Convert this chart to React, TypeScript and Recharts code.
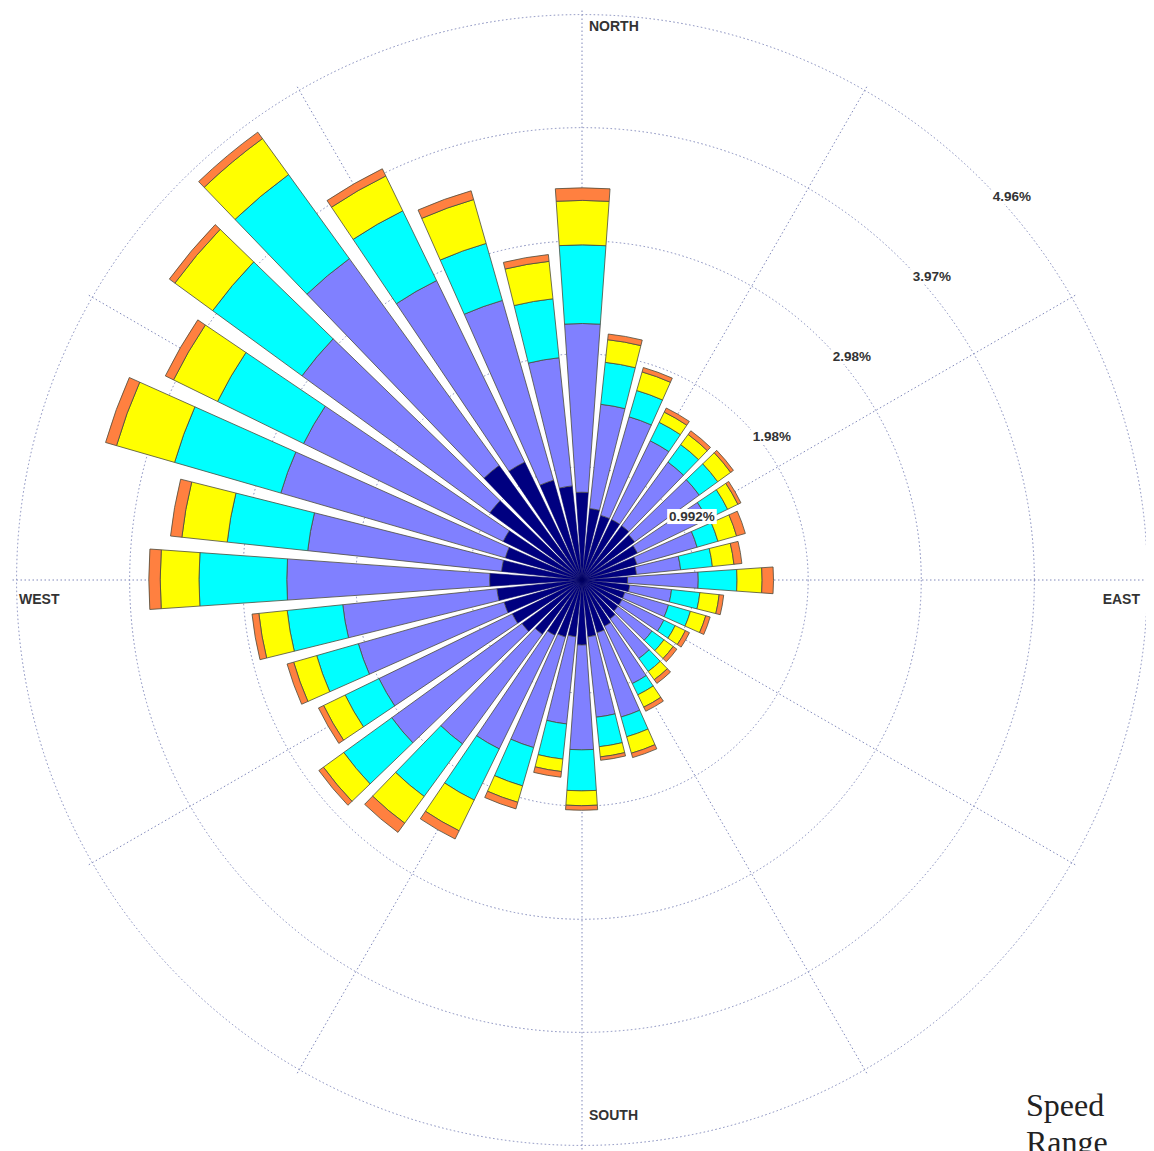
import React from 'react';
import { RadialBarChart, RadialBar, PolarGrid, PolarAngleAxis, PolarRadiusAxis } from 'recharts';

// wind direction (degrees clockwise from north)
const bearings = [0, 10, 20, 30, 40, 50, 60, 70, 80, 90, 100, 110, 120, 130, 140, 150, 160, 170,
  180, 190, 200, 210, 220, 230, 240, 250, 260, 270, 280, 290, 300, 310, 320, 330, 340, 350];

// frequency (%) of each speed class per direction, lowest class first
const navy = [0.77, 0.63, 0.59, 0.59, 0.59, 0.57, 0.54, 0.5, 0.48, 0.4, 0.42, 0.39, 0.39, 0.39, 0.42, 0.45, 0.48, 0.5,
  0.57, 0.5, 0.52, 0.54, 0.59, 0.65, 0.68, 0.71, 0.75, 0.81, 0.71, 0.7, 0.77, 1.0, 1.24, 1.15, 0.91, 0.83];
const slate = [1.48, 0.92, 0.9, 0.77, 0.69, 0.7, 0.68, 0.55, 0.39, 0.62, 0.37, 0.4, 0.41, 0.37, 0.43, 0.56, 0.77, 0.71,
  0.92, 0.77, 1.01, 1.11, 1.19, 1.41, 1.3, 1.33, 1.36, 1.78, 1.71, 2.05, 1.95, 2.04, 2.24, 1.77, 1.64, 1.13];
const cyan = [0.69, 0.37, 0.24, 0.18, 0.19, 0.2, 0.2, 0.19, 0.28, 0.34, 0.25, 0.2, 0.11, 0.13, 0.14, 0.11, 0.18, 0.26,
  0.36, 0.31, 0.35, 0.5, 0.57, 0.52, 0.33, 0.38, 0.49, 0.77, 0.71, 0.97, 0.84, 0.97, 0.91, 0.68, 0.52, 0.52];
const yellow = [0.39, 0.2, 0.17, 0.1, 0.11, 0.14, 0.1, 0.17, 0.19, 0.22, 0.17, 0.14, 0.1, 0.1, 0.09, 0.12, 0.15, 0.09,
  0.13, 0.11, 0.15, 0.3, 0.29, 0.22, 0.21, 0.21, 0.25, 0.34, 0.4, 0.53, 0.43, 0.41, 0.39, 0.34, 0.4, 0.33];
const orange = [0.11, 0.05, 0.04, 0.04, 0.04, 0.03, 0.03, 0.08, 0.07, 0.1, 0.04, 0.04, 0.04, 0.04, 0.04, 0.04, 0.04, 0.03,
  0.04, 0.05, 0.06, 0.08, 0.1, 0.05, 0.05, 0.06, 0.06, 0.1, 0.1, 0.1, 0.08, 0.06, 0.07, 0.07, 0.08, 0.06];

const ringValues = [0.992, 1.984, 2.976, 3.968, 4.96];
const ringLabels = ['0.992%', '1.98%', '2.98%', '3.97%', '4.96%'];
const spokeBearings = [0, 30, 60, 90, 120, 150, 180, 210, 240, 270, 300, 330];
const compassLabels: Record<number, string> = { 0: 'NORTH', 90: 'EAST', 180: 'SOUTH', 270: 'WEST' };

const data = bearings.map((b, i) => ({
  dir: b,
  navy: navy[i],
  slate: slate[i],
  cyan: cyan[i],
  yellow: yellow[i],
  orange: orange[i],
}));

const FONT = '"Liberation Sans", Arial, sans-serif';
const CX = 574;
const CY = 572;
const R = 570;

const CompassTick = ({ payload }: any) => {
  const b = payload.value;
  const label = compassLabels[b];
  if (!label) return null;
  const rad = (b * Math.PI) / 180;
  const x = CX + R * Math.sin(rad);
  const y = CY - R * Math.cos(rad);
  let dx = 7, dy = 21, anchor = 'start';
  if (b === 90) { dx = -12; dy = 24; anchor = 'end'; }
  if (b === 180) { dx = 7; dy = -30; }
  if (b === 270) { dx = 7; dy = 24; }
  return (
    <text x={x + dx} y={y + dy} textAnchor={anchor} fontFamily={FONT} fontWeight="bold" fontSize={14} fill="#333">
      {label}
    </text>
  );
};

const RingTick = ({ x, y, payload, index }: any) => {
  const i = ringValues.indexOf(payload.value);
  const text = ringLabels[i >= 0 ? i : index];
  const w = text.length * 7.6;
  return (
    <g>
      <rect x={x + 30 - w / 2 - 2} y={y + 9} width={w + 4} height={15} fill="#fff" />
      <text x={x + 30} y={y + 21} textAnchor="middle" fontFamily={FONT} fontWeight="bold" fontSize={13.5} fill="#333">
        {text}
      </text>
    </g>
  );
};

const stroke = '#4b4b3c';

export default function App() {
  return (
    <div style={{ position: 'relative', width: 1146, height: 1143 }}>
      <RadialBarChart
        width={1146}
        height={1143}
        cx={CX}
        cy={CY}
        innerRadius={0}
        outerRadius={R}
        data={data}
        layout="centric"
        startAngle={85}
        endAngle={-275}
        barCategoryGap="9%"
        margin={{ top: 0, right: 0, bottom: 0, left: 0 }}
      >
        <PolarGrid
          gridType="circle"
          polarAngles={spokeBearings.map((b) => 90 - b)}
          stroke="#8088bb"
          strokeDasharray="1.5 2.5"
        />
        <PolarAngleAxis dataKey="dir" type="category" axisLine={false} tickLine={false} tickSize={0} tick={<CompassTick />} />
        <RadialBar dataKey="navy" stackId="a" fill="#000080" stroke="#000060" strokeWidth={0.6} isAnimationActive={false} />
        <RadialBar dataKey="slate" stackId="a" fill="#8080ff" stroke={stroke} strokeWidth={0.8} isAnimationActive={false} />
        <RadialBar dataKey="cyan" stackId="a" fill="#00ffff" stroke={stroke} strokeWidth={0.8} isAnimationActive={false} />
        <RadialBar dataKey="yellow" stackId="a" fill="#ffff00" stroke={stroke} strokeWidth={0.8} isAnimationActive={false} />
        <RadialBar dataKey="orange" stackId="a" fill="#ff8040" stroke={stroke} strokeWidth={0.8} isAnimationActive={false} />
        <PolarRadiusAxis
          type="number"
          angle={45}
          domain={[0, 4.96]}
          ticks={ringValues}
          axisLine={false}
          tick={<RingTick />}
        />
        <circle cx={CX} cy={CY} r={13} fill="#fff" />
      </RadialBarChart>
      <div
        style={{
          position: 'absolute',
          left: 1018,
          top: 1079,
          fontFamily: '"Liberation Serif", "Times New Roman", serif',
          fontSize: 32,
          lineHeight: '37px',
          color: '#222',
        }}
      >
        Speed
        <br />
        Range
      </div>
    </div>
  );
}
